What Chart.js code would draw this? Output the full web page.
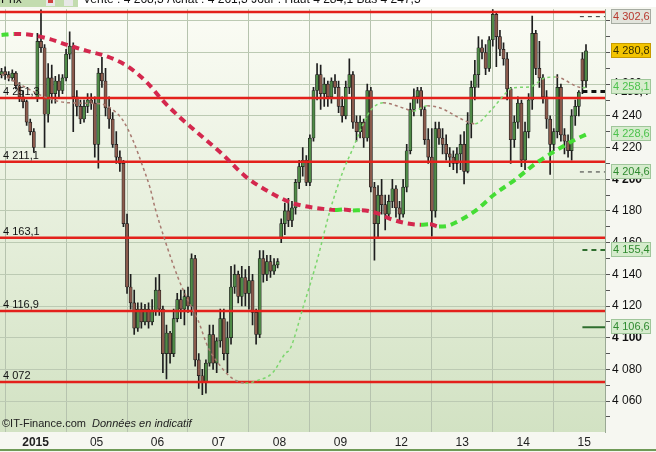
<!DOCTYPE html>
<html>
<head>
<meta charset="utf-8">
<script src="https://cdn.jsdelivr.net/npm/chart.js@4.4.0/dist/chart.umd.min.js"></script>
<style>
  html, body { margin: 0; padding: 0; background: #f6f7f1; }
  canvas { display: block; }
</style>
</head>
<body>
<canvas id="chart" width="656" height="452"></canvas>
<script>
// CAC 40 intraday - 30 min candles, 31/12/2014 -> 15/01/2015

const dayStarts = [9.5, 26.5, 43.5, 60.5, 77.5, 94.5, 111.5, 128.5, 145.5, 162.5];
const dayLabels = ['2015', '05', '06', '07', '08', '09', '12', '13', '14', '15'];

const candleOpen = [
  4266,4268,4266,4264,4267,4259,4252,4249,4236,4230,
  4251,4287,4283,4241,4264,4254,4262,4256,4264,4279,
  4284,4252,4246,4238,4246,4250,4248,4222,4267,4262,
  4245,4238,4222,4214,4210,4172,4132,4122,4106,4118,
  4110,4118,4110,4117,4130,4118,4090,4103,4090,4112,
  4124,4118,4126,4120,4150,4086,4076,4072,4084,4102,
  4084,4098,4112,4090,4100,4132,4140,4126,4138,4128,
  4136,4116,4102,4150,4140,4148,4142,4146,4163,4172,
  4180,4174,4182,4198,4208,4212,4198,4226,4256,4266,
  4254,4260,4252,4262,4258,4246,4240,4258,4266,4236,
  4230,4236,4226,4256,4195,4172,4190,4184,4178,4186,
  4194,4182,4178,4195,4218,4244,4252,4256,4244,4225,
  4214,4180,4232,4226,4222,4216,4214,4210,4216,4222,
  4205,4235,4258,4266,4283,4280,4270,4288,4304,4290,
  4282,4276,4257,4225,4236,4248,4212,4230,4250,4292,
  4270,4264,4252,4238,4222,4230,4258,4228,4224,4218,
  4240,4246,4276,4262
];
const candleHigh = [
  4270,4271,4268,4269,4268,4261,4256,4250,4238,4232,
  4292,4307,4285,4273,4272,4265,4266,4266,4282,4293,
  4286,4256,4250,4250,4254,4254,4252,4270,4277,4270,
  4252,4242,4230,4218,4212,4178,4140,4130,4122,4122,
  4121,4122,4124,4138,4140,4120,4108,4104,4118,4128,
  4130,4130,4132,4153,4152,4090,4080,4086,4108,4108,
  4100,4118,4118,4110,4145,4146,4142,4145,4143,4145,
  4140,4118,4155,4155,4152,4152,4150,4150,4175,4185,
  4188,4186,4200,4212,4220,4215,4228,4258,4273,4272,
  4264,4262,4264,4266,4262,4252,4262,4276,4268,4240,
  4240,4238,4260,4258,4198,4196,4200,4190,4190,4200,
  4196,4186,4200,4222,4248,4257,4258,4258,4246,4232,
  4232,4236,4236,4232,4228,4220,4218,4220,4228,4230,
  4242,4262,4275,4290,4288,4285,4290,4310,4306,4294,
  4286,4280,4258,4240,4252,4250,4236,4254,4303,4294,
  4287,4266,4256,4240,4232,4266,4260,4232,4228,4244,
  4250,4256,4280,4285
];
const candleLow = [
  4264,4263,4262,4262,4257,4249,4245,4234,4228,4217,
  4249,4280,4220,4236,4248,4248,4252,4254,4262,4276,
  4230,4240,4235,4236,4242,4244,4214,4207,4258,4240,
  4232,4220,4210,4205,4170,4128,4118,4102,4104,4106,
  4108,4106,4108,4114,4114,4078,4074,4084,4088,4110,
  4112,4108,4116,4114,4082,4068,4064,4065,4082,4080,
  4078,4094,4086,4078,4096,4128,4122,4120,4120,4118,
  4108,4096,4100,4135,4136,4138,4140,4144,4160,4165,
  4170,4170,4178,4194,4202,4196,4196,4224,4250,4244,
  4246,4246,4248,4254,4242,4236,4238,4254,4232,4224,
  4226,4220,4224,4192,4149,4163,4178,4168,4176,4182,
  4176,4174,4176,4192,4216,4240,4248,4240,4222,4210,
  4164,4176,4222,4216,4212,4208,4206,4204,4206,4197,
  4204,4226,4250,4258,4276,4266,4268,4284,4271,4278,
  4272,4250,4210,4220,4232,4208,4206,4226,4244,4266,
  4258,4248,4232,4203,4218,4226,4224,4216,4214,4212,
  4234,4240,4254,4258
];
const candleClose = [
  4268,4266,4264,4267,4259,4252,4249,4236,4230,4220,
  4287,4283,4241,4264,4254,4262,4256,4264,4279,4284,
  4252,4246,4238,4246,4250,4248,4222,4267,4262,4245,
  4238,4222,4214,4210,4172,4132,4122,4106,4118,4110,
  4118,4110,4117,4130,4118,4090,4103,4090,4112,4124,
  4118,4126,4120,4150,4086,4076,4072,4084,4102,4084,
  4098,4112,4090,4100,4132,4140,4126,4138,4128,4136,
  4116,4102,4150,4140,4148,4142,4146,4148,4172,4180,
  4174,4182,4198,4208,4212,4198,4226,4256,4266,4254,
  4260,4252,4262,4258,4246,4240,4258,4266,4236,4230,
  4236,4226,4256,4195,4172,4190,4184,4178,4186,4194,
  4182,4178,4195,4218,4244,4252,4256,4244,4225,4214,
  4180,4232,4226,4222,4216,4214,4210,4216,4222,4205,
  4235,4258,4266,4283,4280,4270,4288,4304,4290,4282,
  4276,4257,4225,4236,4248,4212,4230,4250,4292,4270,
  4264,4252,4238,4222,4230,4258,4228,4224,4218,4240,
  4246,4255,4262,4281
];

// long moving average (thick dashes)  [bar index, value]
const slowMA = [
  [0,4291.0],[3.5,4291.7],[8,4291.2],[13.5,4288.4],[18.3,4284.8],[23.8,4281],
  [29.4,4277.5],[35,4271.5],[40.6,4261],[44.8,4250],[50,4238.5],[54,4230.6],
  [61.5,4216],[67.9,4202],[75.4,4191],[80.5,4185.5],[84.1,4183.2],[89.7,4181.3],
  [93,4180.6],[95.5,4180.9],[98,4180.3],[100.5,4180.5],[104.7,4178.6],[108.4,4175],
  [113.1,4172.2],[117,4171.3],[119.5,4171.6],[122,4170.2],[124,4170.4],[126.5,4172.5],
  [132.1,4180],[137.5,4190.5],[143.4,4200],[149,4210],[154.5,4218],[160,4225],[163.4,4228.6]
];
// short moving average (thin dots)
const fastMA = [
  [0,4266.4],[5,4260],[13.5,4250.7],[19,4248.2],[27.5,4247.6],[30.3,4245],[33.9,4237],
  [36.7,4224.3],[39.5,4207.3],[41.4,4194.7],[42.8,4182],[45.6,4161.3],[49.2,4138],
  [52,4123.6],[54.8,4111],[57.6,4094],[60.4,4084],[64.3,4074.5],[68,4071.3],[71.6,4073.2],
  [75.5,4077.6],[79.1,4090],[80.5,4093],[84.1,4119.2],[88,4148.7],[91.6,4180.2],
  [95.3,4205.4],[98.1,4220],[100,4230.6],[102.8,4243],[106.4,4248.2],[112,4245],
  [114.8,4243],[118.7,4246.3],[122.3,4245],[129.3,4236.9],[132.1,4235],[136.3,4243],
  [140.4,4253.8],[142.4,4257.6],[147.4,4258.3],[151.6,4264],[154.5,4264.5],[162,4257.8],[163.4,4258.1]
];

// support / resistance levels
const levels = [4305.5, 4251.3, 4211.1, 4163.1, 4116.9, 4072];
const levelLabels = ['', '4 251,3', '4 211,1', '4 163,1', '4 116,9', '4 072'];

// right-hand price tags
const tagValues = [4302.6, 4280.8, 4258.1, 4228.6, 4204.6, 4155.4, 4106.6];
const tagLabels = ['4 302,6', '4 280,8', '4 258,1', '4 228,6', '4 204,6', '4 155,4', '4 106,6'];
const prevClose = 4255.4;
const prevCloseLabel = '4 255,4';

const X_MIN = -0.43, X_MAX = 168.3;
const Y_MIN = 4040.5, Y_MAX = 4307.3;

const SANS = '"Liberation Sans", Arial, sans-serif';
const NARROW = '"Liberation Sans Narrow", "Liberation Sans", Arial, sans-serif';

const TAG_STYLES = [
  { bg: '#e2e4dc', fg: '#b8382e', bd: '#a6aca2' },
  { bg: '#f3c400', fg: '#3a3000', bd: '#c79c00' },
  { bg: '#d6eccd', fg: '#4cc24c', bd: '#9fc69a' },
  { bg: '#d6eccd', fg: '#4cc24c', bd: '#9fc69a' },
  { bg: '#d6eccd', fg: '#2f8a2f', bd: '#9fc69a' },
  { bg: '#d6eccd', fg: '#2f8a2f', bd: '#9fc69a' },
  { bg: '#d6eccd', fg: '#2f8a2f', bd: '#9fc69a' }
];

function fmt(v) {
  const s = Math.round(v).toString();
  return s.slice(0, 1) + ' ' + s.slice(1);
}

const bodies = candleOpen.map((o, i) => ({ x: i, y: [o, candleClose[i]] }));
const wicks = candleLow.map((l, i) => ({ x: i, y: [l, candleHigh[i]] }));
const bodyColors = candleOpen.map((o, i) => candleClose[i] >= o ? '#4f8a47' : '#8a5a4c');

const levelSets = levels.map(v => ({
  type: 'line',
  data: [{ x: X_MIN, y: v }, { x: X_MAX, y: v }],
  borderColor: '#e3211b',
  borderWidth: 2.5,
  pointRadius: 0,
  order: 3
}));

function shortLine(v, from, color, width, dash) {
  return {
    type: 'line',
    data: [{ x: from, y: v }, { x: X_MAX, y: v }],
    borderColor: color,
    borderWidth: width,
    borderDash: dash,
    pointRadius: 0,
    order: 0
  };
}

const backdrop = {
  id: 'backdrop',
  beforeDraw(chart) {
    const { ctx, chartArea: a, width, height } = chart;
    ctx.save();
    ctx.fillStyle = '#f6f7f1';
    ctx.fillRect(0, 0, width, height);
    const g = ctx.createLinearGradient(0, a.top, 0, a.bottom);
    g.addColorStop(0, '#fbfcf5');
    g.addColorStop(1, '#d2e2c3');
    ctx.fillStyle = g;
    ctx.fillRect(a.left, a.top, a.right - a.left, a.bottom - a.top);
    ctx.restore();
  },
  afterDraw(chart) {
    const { ctx, chartArea: a, width } = chart;
    const ys = chart.scales.y;
    ctx.save();

    // level captions on the left
    ctx.font = '11px ' + SANS;
    ctx.fillStyle = '#111';
    ctx.textBaseline = 'alphabetic';
    levels.forEach((v, i) => {
      if (levelLabels[i]) ctx.fillText(levelLabels[i], 3, ys.getPixelForValue(v) - 3);
    });

    // previous close label (bold, partly hidden by the tags)
    ctx.font = 'bold 11px ' + SANS;
    ctx.textBaseline = 'middle';
    ctx.fillStyle = '#111';
    ctx.fillText(prevCloseLabel, a.right + 7, ys.getPixelForValue(prevClose) + 1);

    // price tags
    ctx.font = '11px ' + SANS;
    tagValues.forEach((v, i) => {
      const st = TAG_STYLES[i];
      const y = Math.round(ys.getPixelForValue(v));
      ctx.fillStyle = st.bg;
      ctx.fillRect(a.right + 6.5, y - 7.5, 39, 14);
      ctx.strokeStyle = st.bd;
      ctx.lineWidth = 1;
      ctx.strokeRect(a.right + 6.5, y - 7.5, 39, 14);
      ctx.fillStyle = st.fg;
      ctx.fillText(tagLabels[i], a.right + 8, y);
    });

    // toolbar remains at the top
    ctx.fillStyle = '#fff';
    ctx.fillRect(0, 0, width, 7);
    ctx.fillStyle = '#c3dcaf';
    ctx.fillRect(0, 0, 78, 7);
    ctx.fillStyle = '#e8e8e8';
    ctx.fillRect(46, 0, 9, 6);
    ctx.fillRect(64, 0, 9, 6);
    ctx.fillStyle = '#d04040';
    ctx.fillRect(48, 0, 5, 3);
    ctx.font = '12px ' + SANS;
    ctx.textBaseline = 'alphabetic';
    ctx.fillStyle = '#111';
    ctx.fillText('Prix', 1, 3);
    ctx.fillText('Vente : 4 268,3 Achat : 4 261,3 Jour : Haut 4 284,1 Bas 4 247,5', 83, 3);

    // copyright
    ctx.font = '11px ' + SANS;
    ctx.fillStyle = '#222';
    ctx.fillText('\u00A9IT-Finance.com', 2, a.bottom - 5);
    ctx.font = 'italic 11px ' + SANS;
    ctx.fillText('Donn\u00e9es en indicatif', 92, a.bottom - 5);

    // bottom rule
    ctx.strokeStyle = '#6f9a57';
    ctx.lineWidth = 2;
    ctx.beginPath();
    ctx.moveTo(0, 450);
    ctx.lineTo(width, 450);
    ctx.stroke();
    ctx.restore();
  }
};

new Chart(document.getElementById('chart'), {
  type: 'bar',
  data: {
    datasets: [
      {
        data: wicks,
        backgroundColor: '#1e1e1e',
        barThickness: 1,
        grouped: false,
        order: 5
      },
      {
        data: bodies,
        backgroundColor: bodyColors,
        borderColor: '#1a1a1a',
        borderWidth: 0.7,
        borderSkipped: false,
        barThickness: 3.2,
        grouped: false,
        order: 4
      },
      ...levelSets,
      {
        type: 'line',
        data: fastMA.map(p => ({ x: p[0], y: p[1] })),
        borderWidth: 1.5,
        borderDash: [3, 3],
        pointRadius: 0,
        cubicInterpolationMode: 'monotone',
        segment: { borderColor: c => c.p1.parsed.y >= c.p0.parsed.y ? '#7cd66e' : '#a87a70' },
        order: 2
      },
      {
        type: 'line',
        data: slowMA.map(p => ({ x: p[0], y: p[1] })),
        borderWidth: 4,
        borderDash: [7, 5],
        pointRadius: 0,
        cubicInterpolationMode: 'monotone',
        segment: { borderColor: c => c.p1.parsed.y >= c.p0.parsed.y ? '#45dd35' : '#d4284e' },
        order: 1
      },
      shortLine(4302.6, 161.3, '#333', 1, [4, 4]),
      shortLine(prevClose, 162.0, '#111', 3, [5, 4]),
      shortLine(4204.6, 161.3, '#333', 1, [4, 4]),
      shortLine(4155.4, 162.0, '#2f6e2f', 2, [5, 4]),
      shortLine(4106.6, 162.0, '#2f6e2f', 2, [])
    ]
  },
  options: {
    responsive: false,
    animation: false,
    devicePixelRatio: 1,
    layout: { padding: { top: 8, left: 0, right: 0, bottom: 0 } },
    plugins: {
      legend: { display: false },
      tooltip: { enabled: false }
    },
    scales: {
      x: {
        type: 'linear',
        min: X_MIN,
        max: X_MAX,
        offset: false,
        afterBuildTicks: s => { s.ticks = dayStarts.map(v => ({ value: v })); },
        afterFit: s => { s.height = 20; },
        ticks: {
          autoSkip: false,
          maxRotation: 0,
          padding: 3,
          color: '#222',
          font: c => ({ family: NARROW, size: 12, weight: c.index === 0 ? 'bold' : 'normal' }),
          callback: (v, i) => dayLabels[i]
        },
        grid: { color: '#b6c3ae', drawTicks: false },
        border: { display: false }
      },
      y: {
        position: 'right',
        min: Y_MIN,
        max: Y_MAX,
        afterFit: s => { s.width = 51; },
        ticks: {
          stepSize: 10,
          includeBounds: false,
          autoSkip: false,
          padding: 2,
          color: '#111',
          font: c => ({ family: SANS, size: 12, weight: c.tick && c.tick.value % 100 === 0 ? 'bold' : 'normal' }),
          callback: v => v % 20 === 0 ? fmt(v) : ''
        },
        grid: {
          color: c => c.tick && c.tick.value % 20 === 0 ? '#bccab3' : 'rgba(0,0,0,0)',
          tickColor: '#555',
          tickLength: 5
        },
        border: { display: true, color: '#9aa894' }
      }
    }
  },
  plugins: [backdrop]
});
</script>
</body>
</html>
